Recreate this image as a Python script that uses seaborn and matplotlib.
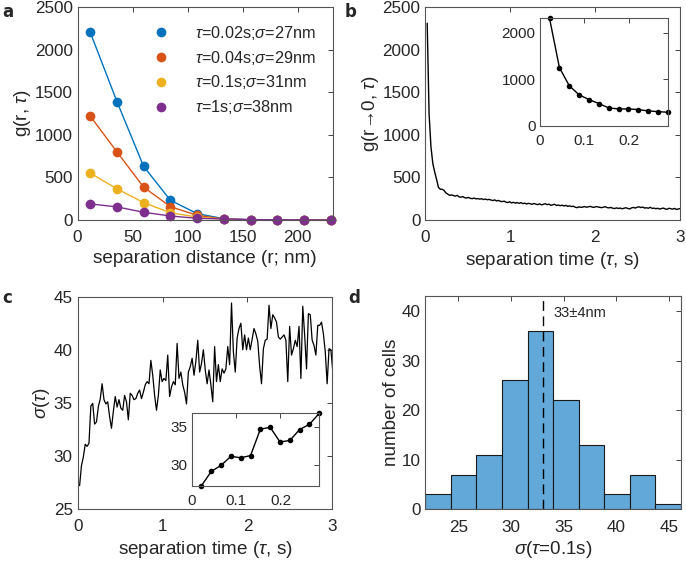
import matplotlib

matplotlib.use("Agg")
import matplotlib.pyplot as plt
import numpy as np
import pandas as pd
import seaborn as sns
from matplotlib.lines import Line2D

# panel a: g(r, tau) for several lag times
r_nm = [11.5, 35.8, 60.0, 84.3, 108.6, 132.9, 157.2, 181.4, 205.7, 230.0]
g_002 = [2205, 1390, 630, 232, 75, 15, 3, 1, 0, 0]
g_004 = [1220, 800, 386, 157, 55, 12, 3, 1, 0, 0]
g_01 = [551, 366, 205, 85, 35, 8, 2, 1, 0, 0]
g_1 = [189, 154, 91, 47, 20, 12, 5, 3, 2, 1]
labels_a = [
    r"$\tau$=0.02s;$\sigma$=27nm",
    r"$\tau$=0.04s;$\sigma$=29nm",
    r"$\tau$=0.1s;$\sigma$=31nm",
    r"$\tau$=1s;$\sigma$=38nm",
]

# panel b: g(r->0, tau)
dt = 0.0221
g0 = [2310, 1250, 860, 664, 563, 477, 383, 361, 361, 347, 318, 303, 289,
      295, 288, 280, 290, 272, 268, 275, 262, 258,
      265, 255, 250, 258, 248, 252, 245, 250, 240,
      246, 238, 242, 235, 228, 236, 224, 230, 220,
      215, 222, 210, 205, 214, 200, 208, 198, 205,
      195, 204, 192, 198, 188, 196, 190, 185, 194,
      186, 180, 190, 178, 184, 192, 180, 186, 172,
      178, 185, 170, 176, 168, 174, 165, 172, 160,
      166, 158, 162, 150, 145, 155, 148, 152, 158,
      150, 155, 160, 152, 148, 158, 154, 150, 145,
      150, 156, 146, 142, 148, 138, 135, 142, 136,
      140, 132, 138, 144, 136, 130, 142, 148, 140,
      150, 155, 146, 152, 140, 144, 138, 150, 136,
      140, 132, 138, 128, 135, 140, 130, 126, 138,
      132, 128, 136, 124, 130, 134]

# panel c: sigma(tau)
sigma_tau = [27.2, 29.1, 29.9, 31.1, 30.9, 31.2, 34.7, 34.95, 33.0, 33.2, 34.65, 35.35, 36.8,
             35.3, 34.9, 35.1, 33.7, 32.6, 34.2, 35.6, 34.6, 35.3, 34.5,
             34.3, 35.7, 35.1, 33.4, 35.9, 35.7, 35.3, 35.4, 35.9, 36.2,
             35.4, 36.0, 36.7, 37.0, 36.8, 39.0, 37.6, 35.7, 34.3,
             35.7, 38.1, 37.0, 37.3, 37.1, 39.5, 35.6, 36.5, 37.0, 36.7,
             40.6, 37.3, 37.9, 36.7, 36.0, 34.9, 37.9, 38.4, 39.2, 37.6,
             38.9, 40.9, 37.9, 38.7, 40.0, 38.1, 36.8, 38.1, 36.7, 35.1,
             40.3, 37.0, 38.6, 37.0, 38.2, 37.8, 38.2, 40.3, 38.6, 44.4,
             39.8, 37.9, 41.1, 42.0, 42.5, 40.0, 41.4, 40.0,
             41.1, 40.0, 41.0, 42.0, 41.5, 40.8, 38.5, 36.8, 40.1, 40.9,
             41.0, 44.2, 42.0, 43.3, 43.0, 42.6, 41.2, 41.0, 41.2, 41.4,
             40.9, 37.0, 42.2, 39.5, 40.1, 40.9, 40.3, 42.2, 37.3, 44.1,
             41.4, 38.2, 43.4, 43.3, 40.9, 40.4, 39.5, 42.3, 42.3, 42.6,
             41.5, 39.8, 36.8, 40.1, 40.0, 38.0]
n_inset = 13

# panel d: histogram of sigma at tau = 0.1 s
bin_edges = [21.85, 24.28, 26.71, 29.14, 31.57, 34.0, 36.43, 38.86, 41.29, 43.72, 46.15]
cell_counts = [3, 7, 11, 26, 36, 22, 13, 3, 7, 1]
sigma_mean = 33
sigma_sd = 4

colors_a = ["#0072BD", "#D95319", "#EDB120", "#7E2F8E"]
ink = "#262626"
tick_fs = 12.3
label_fs = 13.6

sns.set_style("white")
plt.rcParams["font.family"] = ["Liberation Sans", "DejaVu Sans"]
plt.rcParams["mathtext.fontset"] = "custom"
plt.rcParams["mathtext.rm"] = "Liberation Sans"
plt.rcParams["mathtext.it"] = "Liberation Sans:italic"
plt.rcParams["text.color"] = ink
plt.rcParams["axes.labelcolor"] = ink


def matlab_look(ax, fs=tick_fs, xpad=7.5, ypad=3.5):
    ax.tick_params(direction="in", top=True, right=True, length=3.5, width=0.6,
                   labelsize=fs, colors=ink, labelcolor=ink)
    ax.tick_params(axis="x", pad=xpad)
    ax.tick_params(axis="y", pad=ypad)
    for s in ax.spines.values():
        s.set_visible(True)
        s.set_color("#555555")
        s.set_linewidth(0.8)


fig = plt.figure(figsize=(6.86, 5.65), dpi=100)
ax_a = fig.add_axes([0.113, 0.6106, 0.3725, 0.377])
ax_b = fig.add_axes([0.620, 0.6106, 0.3709, 0.377])
ax_c = fig.add_axes([0.1133, 0.0991, 0.3711, 0.3758])
ax_d = fig.add_axes([0.620, 0.0986, 0.3725, 0.377])
ax_bi = fig.add_axes([0.7867, 0.7775, 0.187, 0.190])
ax_ci = fig.add_axes([0.2794, 0.1404, 0.186, 0.128])

# ---- a
df_a = pd.DataFrame({
    "r": r_nm * 4,
    "g": g_002 + g_004 + g_01 + g_1,
    "lab": sum([[lab] * len(r_nm) for lab in labels_a], []),
})
sns.lineplot(data=df_a, x="r", y="g", hue="lab", palette=colors_a, marker="o",
             markersize=7, markeredgewidth=0, linewidth=1, legend=False, ax=ax_a,
             clip_on=False)
ax_a.set_xlim(0, 232)
ax_a.set_ylim(0, 2500)
ax_a.set_xticks([0, 50, 100, 150, 200])
ax_a.set_yticks([0, 500, 1000, 1500, 2000, 2500])
ax_a.set_xlabel("separation distance (r; nm)", fontsize=label_fs, labelpad=3)
ax_a.set_ylabel(r"g(r, $\tau$)", fontsize=label_fs, labelpad=1)
handles = [Line2D([], [], ls="none", marker="o", ms=7, mec="none", color=c) for c in colors_a]
ax_a.legend(handles, labels_a, loc="upper right", bbox_to_anchor=(0.99, 0.99),
            frameon=False, fontsize=11.7, handlelength=2, handletextpad=1.1,
            labelspacing=0.42)
matlab_look(ax_a)

# ---- b
tau_b = dt * np.arange(1, len(g0) + 1)
sns.lineplot(x=tau_b, y=g0, color="black", linewidth=1, ax=ax_b)
ax_b.set_xlim(0, 3)
ax_b.set_ylim(0, 2500)
ax_b.set_xticks([0, 1, 2, 3])
ax_b.set_yticks([0, 500, 1000, 1500, 2000, 2500])
ax_b.set_xlabel(r"separation time ($\tau$, s)", fontsize=label_fs, labelpad=3)
ax_b.set_ylabel(r"g(r→0, $\tau$)", fontsize=label_fs, labelpad=1)
matlab_look(ax_b)

sns.lineplot(x=tau_b[:n_inset], y=g0[:n_inset], color="black", linewidth=1,
             marker="o", markersize=4, markeredgewidth=0, ax=ax_bi, clip_on=False)
ax_bi.set_xlim(0, tau_b[n_inset - 1])
ax_bi.set_ylim(0, g0[0])
ax_bi.set_xticks([0, 0.1, 0.2])
ax_bi.set_xticklabels(["0", "0.1", "0.2"])
ax_bi.set_yticks([0, 1000, 2000])
matlab_look(ax_bi, fs=11, xpad=6, ypad=3)

# ---- c
tau_c = dt * np.arange(1, len(sigma_tau) + 1)
sns.lineplot(x=tau_c, y=sigma_tau, color="black", linewidth=0.9, ax=ax_c)
ax_c.set_xlim(0, 3)
ax_c.set_ylim(25, 45)
ax_c.set_xticks([0, 1, 2, 3])
ax_c.set_yticks([25, 30, 35, 40, 45])
ax_c.set_xlabel(r"separation time ($\tau$, s)", fontsize=label_fs, labelpad=3)
ax_c.set_ylabel(r"$\sigma$($\tau$)", fontsize=label_fs, labelpad=1)
matlab_look(ax_c)

sns.lineplot(x=tau_c[:n_inset], y=sigma_tau[:n_inset], color="black", linewidth=1,
             marker="o", markersize=4, markeredgewidth=0, ax=ax_ci, clip_on=False)
ax_ci.set_xlim(0, tau_c[n_inset - 1])
ax_ci.set_ylim(min(sigma_tau[:n_inset]), max(sigma_tau[:n_inset]))
ax_ci.set_xticks([0, 0.1, 0.2])
ax_ci.set_xticklabels(["0", "0.1", "0.2"])
ax_ci.set_yticks([30, 35])
matlab_look(ax_ci, fs=11, xpad=6, ypad=3)

# ---- d
centers = [(a + b) / 2 for a, b in zip(bin_edges[:-1], bin_edges[1:])]
sns.histplot(x=centers, weights=cell_counts, bins=bin_edges, color="#62A8D8",
             alpha=1, edgecolor="#1a1a1a", linewidth=0.8, ax=ax_d)
ax_d.axvline(sigma_mean, color="black", linestyle=(0, (7, 4)), linewidth=1)
ax_d.text(sigma_mean + 1.0, 39.7, f"{sigma_mean}±{sigma_sd}nm", fontsize=10.5,
          va="center", ha="left")
ax_d.set_xlim(bin_edges[0], bin_edges[-1])
ax_d.set_ylim(0, 43)
ax_d.set_xticks([25, 30, 35, 40, 45])
ax_d.set_yticks([0, 10, 20, 30, 40])
ax_d.set_xlabel(r"$\sigma$($\tau$=0.1s)", fontsize=label_fs, labelpad=3)
ax_d.set_ylabel("number of cells", fontsize=label_fs, labelpad=1)
matlab_look(ax_d)

for x, y, s in [(0.004, 0.995, "a"), (0.503, 0.995, "b"),
                (0.004, 0.488, "c"), (0.507, 0.488, "d")]:
    fig.text(x, y, s, fontsize=12, fontweight="bold", va="top", ha="left",
             family=["DejaVu Sans"])

fig.savefig("out.png", dpi=100)
